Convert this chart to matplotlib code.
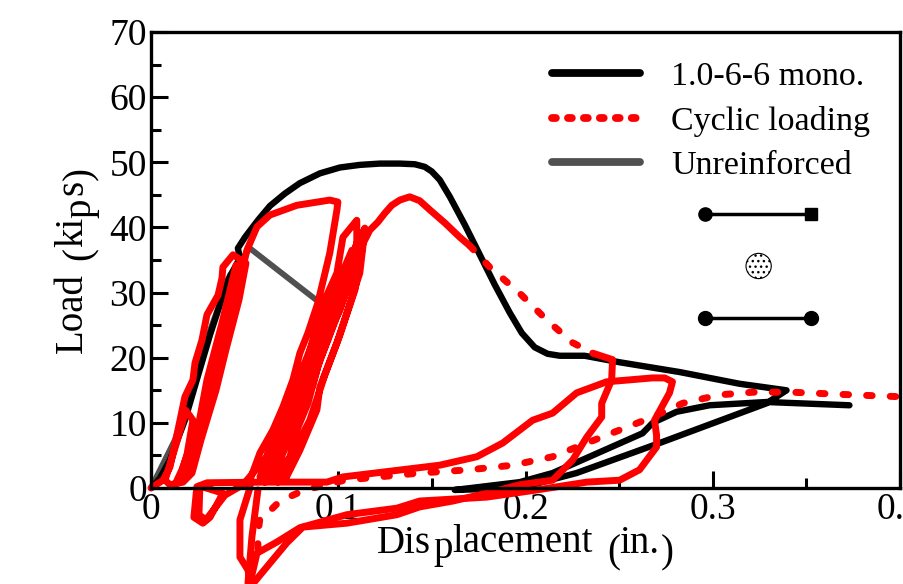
import matplotlib
matplotlib.use("Agg")
import matplotlib.pyplot as plt
from matplotlib.ticker import MultipleLocator

plt.rcParams["font.family"] = ["Liberation Serif", "DejaVu Serif"]

mono_x = [0, .0048, .0101, .0181, .0315, .0411, .0475, .0464, .0502, .0571, .0635, .0715, .0795, .0902, .1009, .1115,
          .1222, .1329, .1409, .1462, .1499, .1542, .1596, .1676, .1756, .1836, .1916, .198, .2049, .2118, .2183, .2316,
          .2503, .2823, .3143, .3394, .3287, .2716, .2273, .1969, .1622,
          .1969, .2145, .2625, .2679, .2807, .2983, .3287, .373]
mono_y = [0, 1.5, 4.3, 10.4, 23.5, 31.9, 35.3, 36.8, 38.5, 41.1, 43.3, 45.2, 46.8, 48.3, 49.2, 49.6,
          49.8, 49.8, 49.7, 49.3, 48.6, 47.3, 44.7, 40.4, 35.8, 31.2, 26.9, 23.8, 21.6, 20.6, 20.3, 20.3,
          19.3, 17.8, 16.0, 15.0, 13.0, 6.9, 2.3, 0, -0.3,
          0.9, 2.3, 8.4, 10.0, 11.7, 12.7, 13.2, 12.7]

plain_x = [0, .0128, .0288, .0422, .0528, .0939]
plain_y = [0, 7.4, 22.0, 32.7, 36.8, 27.6]

# cyclic test, first part: loops near zero, big excursion, loops near 0.08
cyc_x = [0, .0064, .0101, .0144, .0181, .0224, .0235, .0272, .0299, .0358, .0379, .0384, .0438,
         .0507, .047, .04, .0347, .0267, .0219, .0171, .0101,
         .0075, .0133, .0187, .0224, .0192, .0155,
         .0192, .0288, .0331, .0416, .0475, .0454, .0379, .0299, .0256, .0165, .0128,
         .0203, .0245, .0336, .0363, .0454, .0496, .0512, .0566, .0635, .0779, .0955, .0998,
         .0993, .0955, .0891, .0838, .0795, .0758, .0704, .0651, .0582, .0528, .0528,
         .0475, .0475, .0518, .0528, .0566, .0672, .0795, .1046, .1313, .1435, .1793, .206, .2327, .2503, .2609, .27, .27,
         .2689, .2769, .2785, .2743, .2679, .2433, .2273, .2145, .2038, .1878, .174, .1542, .1025, .0939, .0598,
         .0299, .0245, .0229, .0277, .0315, .0384, .0261, .0256, .0293, .0395, .0491,
         .0619, .0688, .0758, .0784, .0838, .0875, .0928, .0993, .1025, .1099,
         .1099, .1025, .0955, .0891, .0838, .0779, .0742, .0651,
         .0582, .0672, .0806, .0902, .1009, .1099, .1142,
         .1115, .1046, .0993, .0902, .0886, .0795, .0715,
         .0624, .0704, .0822, .0928, .1051, .1142,
         .1073, .0971, .0912, .0859, .0795, .0704, .0619,
         .0592, .0688, .0795, .0891, .0982, .1073, .1035, .0945, .0859, .0768, .0678, .0608,
         .0635, .0731, .0838, .0918, .1009, .1094, .1126, .1089, .1009, .0928, .0848, .0752, .0678,
         .0646, .0752, .0848, .0955, .1073, .1169, .1211, .1249, .1286, .1329, .1382, .1435, .1489, .1569, .1649, .1702]
cyc_y = [0, 1.2, 3.2, 8.9, 14.0, 16.6, 19.2, 22.7, 26.6, 29.6, 32.2, 33.9, 35.8,
         34.5, 28.9, 21.2, 15.0, 7.4, 2.3, 0.9, 0.5,
         1.2, 6.6, 11.9, 10.4, 5.1, 1.5,
         2.8, 10.0, 16.6, 25.3, 34.2, 34.2, 25.3, 16.6, 10.0, 2.8, 0.5,
         2.3, 7.4, 15.0, 21.2, 28.9, 34.5, 36.5, 40.1, 41.9, 43.4, 44.2, 43.9,
         42.7, 36.1, 28.4, 23.8, 20.7, 16.6, 12.4, 8.9, 5.4, 1.2, 0,
         -4.9, -10.6, -12.6, -14.7, -10.0, -8.3, -6.1, -4.1, -3.1, -2.0, -1.4, -0.3, 0.9, 1.2, 2.8, 6.3, 8.1,
         10.4, 14.6, 16.3, 16.9, 16.9, 16.3, 14.6, 11.5, 10.4, 6.9, 4.8, 3.5, 1.7, 0.9, 0.9,
         0.8, 0.2, -4.5, -5.4, -4.5, -0.8, 0.3, -4.1, -4.9, -1.1, 0.5,
         4.8, 9.4, 12.0, 16.6, 20.1, 23.8, 28.9, 33.0, 38.5, 41.1,
         37.6, 28.9, 23.8, 18.6, 13.0, 8.9, 4.8, 1.2,
         1.7, 7.8, 16.1, 22.3, 29.3, 37.6, 39.6,
         33.0, 26.9, 22.3, 15.5, 12.0, 5.8, 1.2,
         2.8, 8.9, 17.3, 25.0, 33.5, 39.9,
         32.4, 24.7, 20.7, 15.5, 10.9, 5.8, 1.2,
         2.8, 10.4, 17.3, 24.3, 30.4, 36.5, 30.4, 22.7, 16.6, 9.7, 3.5, 0.9,
         3.5, 9.7, 16.6, 22.0, 27.3, 34.7, 36.5, 30.4, 23.5, 17.3, 10.4, 5.1, 0.9,
         5.8, 12.0, 18.9, 26.6, 34.2, 39.6, 40.8, 42.2, 43.4, 44.2, 44.7, 44.1, 42.7, 40.7, 38.5, 37.2]

# softening part of the envelope, drawn dotted
env_x = [.1702, .1809, .1969, .2113, .2252, .2359]
env_y = [37.2, 33.9, 29.9, 25.8, 22.3, 20.7]

unload_x = [.2359, .2465, .246, .2407, .2407, .2327, .2252, .2145, .1969, .1793, .1612, .1435, .1313, .1046, .0811, .0726,
            .0619, .0544, .0518, .0539, .0571]
unload_y = [20.7, 19.7, 16.6, 13.0, 10.9, 7.8, 4.3, 1.2, 0.5, -0.8, -2.0, -2.9, -4.1, -5.4, -6.0, -8.4,
            -12.1, -14.7, -14.6, -7.5, -0.3]

reload_x = [.0571, .0571, .0582, .0614, .0678, .0758, .0822, .1035, .1435, .1702, .1932, .2145, .2327, .2503, .2679, .2839,
            .3036, .3212, .3426, .3746, .4013]
reload_y = [-9.4, -7.0, -4.6, -4.1, -2.3, -1.1, -0.3, 1.2, 2.3, 2.8, 3.5, 4.8, 6.9, 8.9, 10.9, 13.0,
            14.3, 14.7, 14.7, 14.3, 14.0]

# little section sketch in the corner
bar_x = [.296, .3525]
bar_top_y = [42.06, 42.06]
bar_bot_y = [26.1, 26.1]
core_x = [.3245]
core_y = [34.08]

fig = plt.figure(figsize=(9.04, 5.84), dpi=100)
ax = fig.add_axes([151 / 904, 96 / 584, 749 / 904, 456 / 584])
ax.set_axisbelow(True)

ax.plot(plain_x, plain_y, color="#505050", lw=4.2, solid_capstyle="butt", clip_on=False, label="Unreinforced")
ax.plot(mono_x, mono_y, color="black", lw=4.6, solid_joinstyle="round", solid_capstyle="round", clip_on=False,
        label="1.0-6-6 mono.")
red = dict(color="#ff0000", lw=5, clip_on=False)
dots = (0, (0.8, 2.6))
ax.plot(cyc_x, cyc_y, solid_joinstyle="round", solid_capstyle="round", **red)
ax.plot(unload_x, unload_y, solid_joinstyle="round", solid_capstyle="round", **red)
ax.plot(env_x, env_y, linestyle=dots, dash_capstyle="round", label="Cyclic loading", **red)
ax.plot(reload_x, reload_y, linestyle=dots, dash_capstyle="round", **red)

# section sketch
ax.plot(bar_x, bar_top_y, color="black", lw=2.5)
ax.plot(bar_x, bar_bot_y, color="black", lw=2.5)
ax.plot(bar_x[:1], bar_top_y[:1], "o", color="black", ms=9.5)
ax.plot(bar_x[1:], bar_top_y[1:], "s", color="black", ms=8)
ax.plot(bar_x, bar_bot_y, "o", color="black", ms=10)
ax.scatter(core_x, core_y, s=330, facecolor="white", edgecolor="black", hatch="...", linewidth=0.8)

ax.set_xlim(0, 0.4)
ax.set_ylim(0, 70)
ax.xaxis.set_minor_locator(MultipleLocator(0.05))
ax.yaxis.set_major_locator(MultipleLocator(10))
ax.yaxis.set_minor_locator(MultipleLocator(5))
ax.set_xticks([0, .1, .2, .3, .4])
ax.set_xticklabels(["0", "0.1", "0.2", "0.3", "0.4"])
ax.tick_params(which="major", direction="in", length=12, width=2.2, labelsize=27, pad=3)
ax.tick_params(which="minor", direction="in", length=7, width=2.2)
for sp in ax.spines.values():
    sp.set_linewidth(2.4)

h, l = ax.get_legend_handles_labels()
order = [1, 2, 0]
leg = ax.legend([h[i] for i in order], [l[i] for i in order], frameon=False, fontsize=24.5, handlelength=2.6,
                handletextpad=0.9, labelspacing=0.4, loc="upper left", bbox_to_anchor=(0.5354, 0.936),
                borderaxespad=0, borderpad=0)
for ln in leg.get_lines():
    ln.set_linewidth(5.6)
    ln.set_solid_capstyle("round")
leg.get_lines()[1].set_linestyle((0, (0.5, 1.55)))

# axis titles sit a bit crooked in the original, so they are placed in pieces
for txt, px, py in [("Dis", 377, 553), ("p", 433, 558), ("lacement", 452, 552), ("(", 607, 562), ("in.", 619, 553),
                    (")", 661, 562)]:
    fig.text(px / 904, 1 - py / 584, txt, fontsize=28, ha="left", va="baseline")
for txt, px, py in [("Load", 82, 353), ("(", 90, 260), ("ki", 82, 247), ("p", 90, 218), ("s", 82, 195), (")", 90, 180)]:
    fig.text(px / 904, 1 - py / 584, txt, fontsize=28, rotation=90, ha="left", va="baseline", rotation_mode="anchor")

fig.savefig("out.png", dpi=100)
